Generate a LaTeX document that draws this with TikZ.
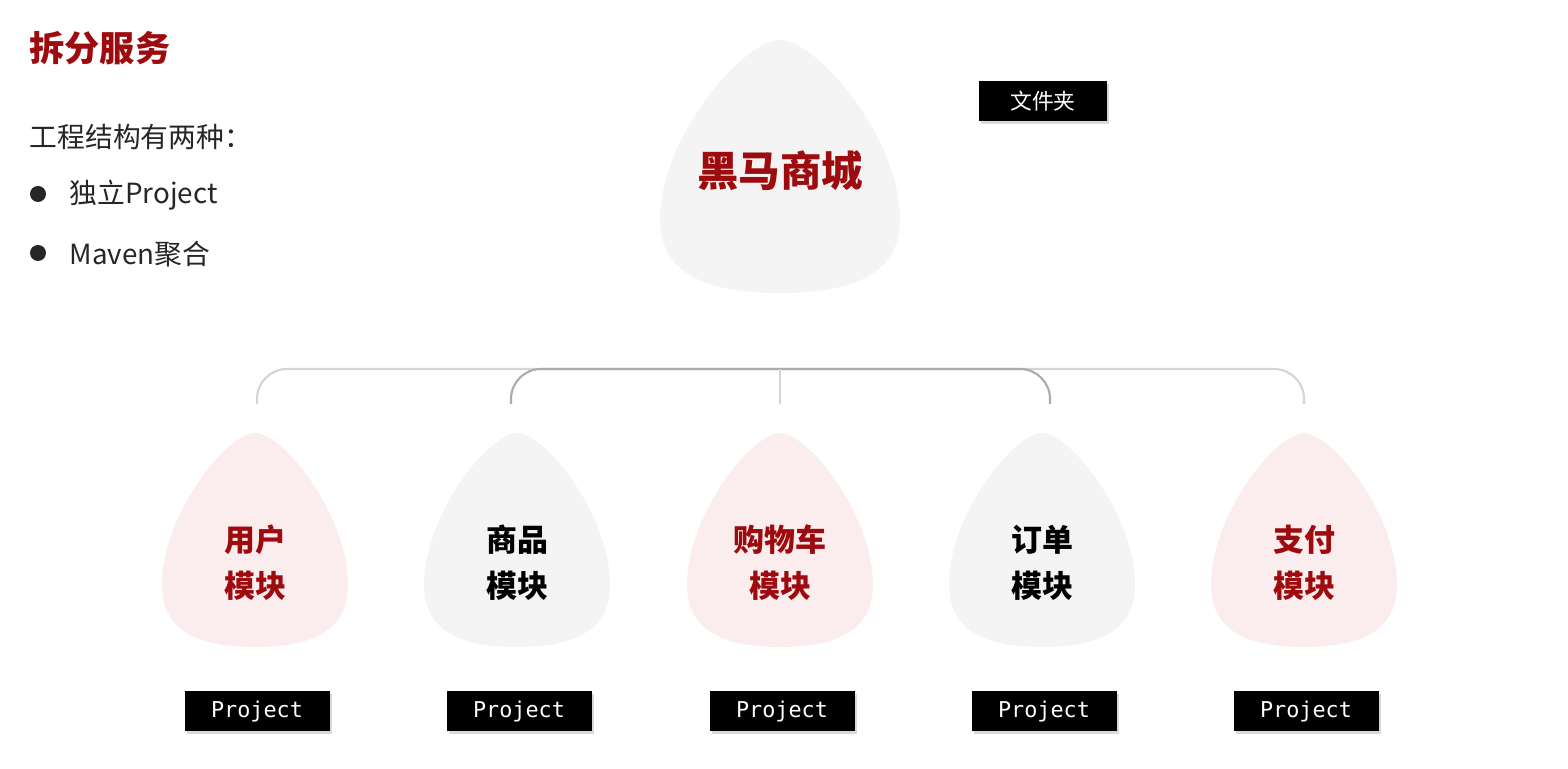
\documentclass[tikz,border=0pt]{standalone}
\usepackage{fontspec}
\setmainfont{Noto Sans CJK SC}
\setmonofont{DejaVu Sans Mono}
\usetikzlibrary{positioning,shadows}
\definecolor{darkred}{HTML}{9E0B0F}
\definecolor{eggpink}{HTML}{FBECED}
\definecolor{egggray}{HTML}{F4F4F4}
\definecolor{linegray}{HTML}{D4D4D4}
\definecolor{linedark}{HTML}{ABABAB}
\tikzset{
	egg/.pic={\fill[pic actions] (0,1) .. controls (0.3,1) and (1,0.62) .. (1,0.29) .. controls (1,0.06) and (0.55,0) .. (0,0) .. controls (-0.55,0) and (-1,0.06) .. (-1,0.29) .. controls (-1,0.62) and (-0.3,1) .. (0,1) -- cycle;},
	blackbox/.style={fill=black,text=white,inner sep=0pt,minimum height=0.40cm,drop shadow={opacity=0.3,shadow xshift=0.02cm,shadow yshift=-0.03cm}},
	modlabel/.style={font=\fontsize{8.8}{13.1}\selectfont\bfseries,align=center},
	lefttext/.style={anchor=west,inner sep=0pt,text=black!85,font=\fontsize{7.9}{9}\selectfont}
}
\begin{document}
\begin{tikzpicture}[scale=1]
	\useasboundingbox (0,0) rectangle (15.68,7.69);
	% left text
	\node[anchor=west,inner sep=0pt,text=darkred,font=\fontsize{10}{12}\selectfont\bfseries] (title) at (0.29,7.21) {拆分服务};
	\node[lefttext] (intro) at (0.29,6.32) {工程结构有两种：};
	\node[lefttext] (item1) at (0.69,5.74) {独立Project};
	\node[lefttext] (item2) at (0.69,5.15) {Maven聚合};
	\fill[black!85] (0.38,5.75) circle(0.08) (0.38,5.16) circle(0.08);
	% top egg
	\pic[fill=egggray,xscale=1.20,yscale=2.53] at (7.80,4.76) {egg};
	\node[text=darkred,font=\fontsize{11.8}{14}\selectfont\bfseries] (mall) at (7.80,5.98) {黑马商城};
	\node[blackbox,minimum width=1.28cm,font=\fontsize{6.2}{7}\selectfont] (folder) at (10.43,6.68) {文件夹};
	% modules
	\foreach \x/\i/\txt/\fc/\tc in {2.55/1/用户/eggpink/darkred,5.17/2/商品/egggray/black,7.80/3/购物车/eggpink/darkred,10.42/4/订单/egggray/black,13.04/5/支付/eggpink/darkred}{
		\pic[fill=\fc,xscale=0.93,yscale=2.14] at (\x,1.22) {egg};
		\node[modlabel,text=\tc] (mod\i) at (\x,2.06) {\txt\\模块};
		\node[blackbox,minimum width=1.45cm,font=\fontsize{6.2}{7}\selectfont\ttfamily] (proj\i) at (\x+0.02,0.58) {Project};
	}
	% connectors
	\coordinate (c1) at (2.57,3.65);
	\coordinate (c2) at (5.11,3.65);
	\coordinate (c3) at (7.80,3.65);
	\coordinate (c4) at (10.50,3.65);
	\coordinate (c5) at (13.04,3.65);
	\coordinate (top) at (7.80,4.00);
	\draw[linegray,line width=0.6pt,rounded corners=0.3cm] (c1) |- (top) -| (c5);
	\draw[linedark,line width=0.6pt,rounded corners=0.3cm] (c2) |- (top) -| (c4);
	\draw[linegray,line width=0.6pt] (top) -- (c3);
\end{tikzpicture}
\end{document}
